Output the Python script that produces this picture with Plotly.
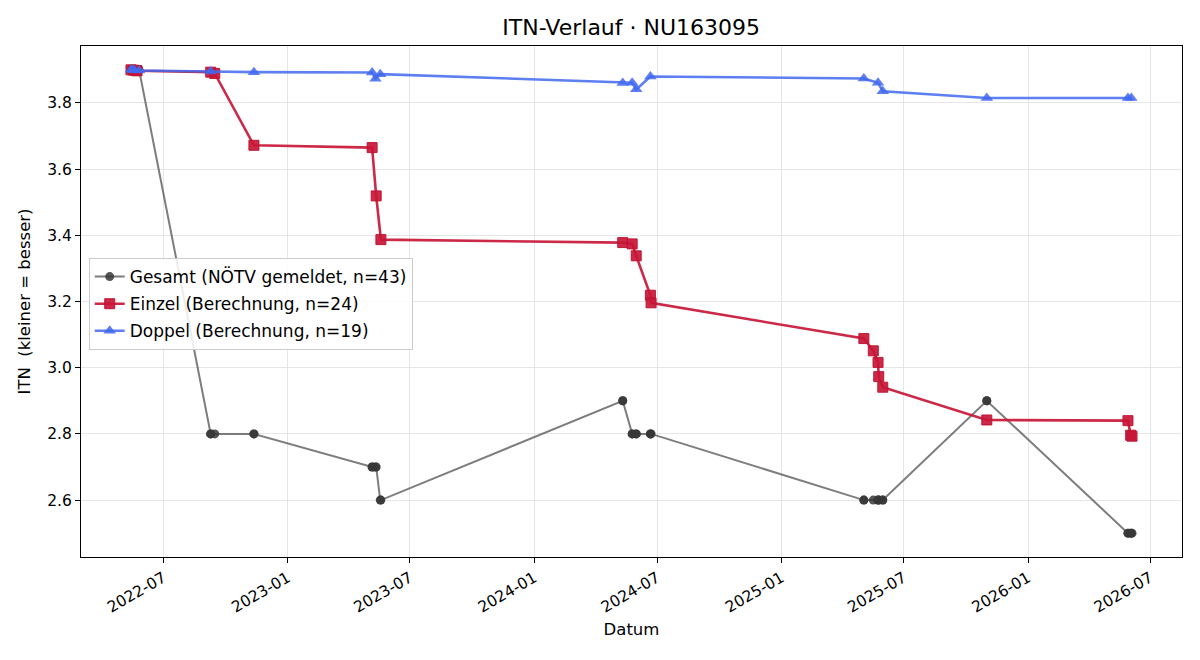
import plotly.graph_objects as go

# ---- data ----
einzel_dates = ["2022-05-14", "2022-05-18", "2022-05-22", "2022-05-23", "2022-09-09", "2022-09-15",
                "2022-11-12", "2023-05-06", "2023-05-12", "2023-05-19", "2024-05-11", "2024-05-25",
                "2024-05-31", "2024-06-21", "2024-06-22", "2025-05-03", "2025-05-17", "2025-05-24",
                "2025-05-25", "2025-05-31", "2025-11-01", "2026-05-29", "2026-06-02", "2026-06-04"]
einzel_vals = [3.900, 3.899, 3.898, 3.897, 3.893, 3.889,
               3.672, 3.665, 3.519, 3.387, 3.378, 3.374,
               3.338, 3.219, 3.196, 3.088, 3.051, 3.016,
               2.973, 2.941, 2.842, 2.840, 2.796, 2.793]

doppel_dates = ["2022-05-14", "2022-05-16", "2022-05-19", "2022-05-26", "2022-09-09", "2022-11-12",
                "2023-05-06", "2023-05-11", "2023-05-18", "2024-05-11", "2024-05-25", "2024-05-31",
                "2024-06-21", "2025-05-03", "2025-05-24", "2025-05-31", "2025-11-01", "2026-05-29",
                "2026-06-03"]
doppel_vals = [3.900, 3.900, 3.899, 3.898, 3.895, 3.893,
               3.892, 3.873, 3.887, 3.860, 3.861, 3.841,
               3.880, 3.874, 3.861, 3.835, 3.815, 3.815,
               3.815]

gesamt_dates = ["2022-05-14", "2022-05-14", "2022-05-16", "2022-05-18", "2022-05-19", "2022-05-22",
                "2022-05-23", "2022-05-26", "2022-09-09", "2022-09-09", "2022-09-15", "2022-11-12",
                "2022-11-12", "2023-05-06", "2023-05-06", "2023-05-11", "2023-05-12", "2023-05-18",
                "2023-05-19", "2024-05-11", "2024-05-11", "2024-05-25", "2024-05-25", "2024-05-31",
                "2024-05-31", "2024-06-21", "2024-06-21", "2024-06-22", "2025-05-03", "2025-05-03",
                "2025-05-17", "2025-05-24", "2025-05-24", "2025-05-25", "2025-05-31", "2025-05-31",
                "2025-11-01", "2025-11-01", "2026-05-29", "2026-05-29", "2026-06-02", "2026-06-03",
                "2026-06-04"]
gesamt_vals = [3.9, 3.9, 3.9, 3.9, 3.9, 3.9,
               3.9, 3.9, 2.8, 2.8, 2.8, 2.8,
               2.8, 2.7, 2.7, 2.7, 2.7, 2.6,
               2.6, 2.9, 2.9, 2.8, 2.8, 2.8,
               2.8, 2.8, 2.8, 2.8, 2.6, 2.6,
               2.6, 2.6, 2.6, 2.6, 2.6, 2.6,
               2.9, 2.9, 2.5, 2.5, 2.5, 2.5,
               2.5]

names = ["Gesamt (NÖTV gemeldet, n=43)", "Einzel (Berechnung, n=24)", "Doppel (Berechnung, n=19)"]
title = "ITN-Verlauf · NU163095"
x_title = "Datum"
y_title = "ITN\u00a0 (kleiner = besser)"
y_ticks = [2.6, 2.8, 3.0, 3.2, 3.4, 3.6, 3.8]

FONT = "DejaVu Sans"
RED = "rgba(200,22,55,0.92)"
BLUE = "rgba(65,105,240,0.85)"

fig = go.Figure()
fig.add_trace(go.Scatter(
    x=gesamt_dates, y=gesamt_vals, mode="lines+markers", name=names[0], legendgroup="g",
    line=dict(color="rgba(70,70,70,0.7)", width=2),
    marker=dict(symbol="circle", size=9, color="rgba(55,55,55,0.85)"),
))
fig.add_trace(go.Scatter(
    x=einzel_dates, y=einzel_vals, mode="lines+markers", name=names[1], legendgroup="e",
    line=dict(color=RED, width=2.6),
    marker=dict(symbol="square", size=10, color=RED, line=dict(color="rgba(190,20,50,0.95)", width=1)),
))
fig.add_trace(go.Scatter(
    x=doppel_dates, y=doppel_vals, mode="lines+markers", name=names[2], legendgroup="d",
    line=dict(color=BLUE, width=2.6),
    marker=dict(symbol="triangle-up", size=11, color=BLUE),
))

axis_common = dict(
    showline=True, mirror=True, linecolor="black", linewidth=1,
    ticks="outside", ticklen=5, tickcolor="black", tickwidth=1,
    showgrid=True, gridcolor="#e6e6e6", gridwidth=1, zeroline=False,
    tickfont=dict(family=FONT, size=15.5, color="black"),
)

fig.update_layout(
    width=1200, height=660,
    paper_bgcolor="white", plot_bgcolor="white",
    margin=dict(l=81, r=18, t=46, b=103),
    font=dict(family=FONT, color="black"),
    title=dict(text=title, x=0.526, xanchor="center", y=0.958, yanchor="middle",
               font=dict(family=FONT, size=22, color="black")),
    xaxis=dict(**axis_common, type="date", range=["2022-03-01", "2026-08-17"],
               tick0="2022-01-01", dtick="M6", tickformat="%Y-%m", tickangle=-30,
               title=dict(text=x_title, font=dict(family=FONT, size=16.5), standoff=8)),
    yaxis=dict(**axis_common, range=[2.428, 3.972], tickvals=y_ticks,
               ticktext=[f"{v:.1f}" for v in y_ticks],
               title=dict(text=y_title, font=dict(family=FONT, size=16.5), standoff=12)),
    legend=dict(x=0.007, y=0.585, xanchor="left", yanchor="top",
                bgcolor="rgba(255,255,255,0.85)", bordercolor="#cccccc", borderwidth=1,
                font=dict(family=FONT, size=17, color="black"),
                traceorder="grouped", tracegroupgap=2),
    showlegend=True,
)

fig.write_html("out.html")
